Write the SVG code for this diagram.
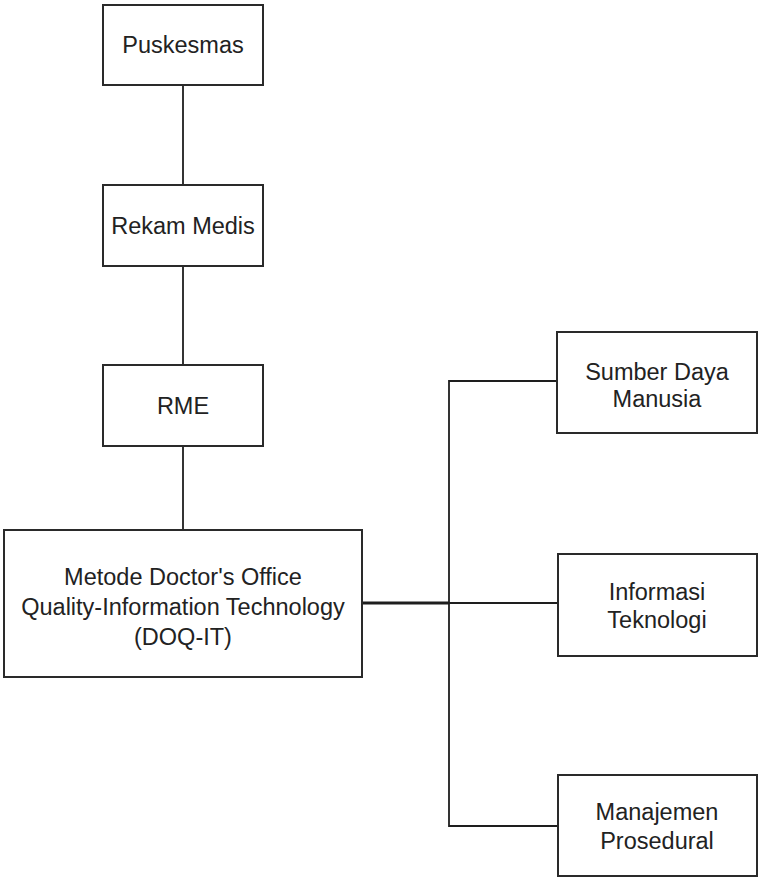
<svg xmlns="http://www.w3.org/2000/svg" width="759" height="877" viewBox="0 0 759 877">
<style>
.box{fill:#fff;stroke:#2a2a2a;stroke-width:2}
.lbl{font-family:"Liberation Sans",Arial,sans-serif;font-size:23.5px;fill:#222;text-anchor:middle}
.con{fill:none;stroke:#1e1e1e;stroke-width:1.8}
</style>
<rect width="759" height="877" fill="#fff"/>
<g id="connectors">
<line class="con" x1="183" y1="85" x2="183" y2="185"/>
<line class="con" x1="183" y1="266" x2="183" y2="365"/>
<line class="con" x1="183" y1="446" x2="183" y2="530"/>
<line class="con" x1="362" y1="603" x2="449" y2="603" style="stroke-width:3"/>
<polyline class="con" points="557,381 449,381 449,826 557,826"/>
<line class="con" x1="449" y1="603" x2="558" y2="603"/>
</g>
<g id="puskesmas">
<rect class="box" x="103" y="5" width="160" height="80"/>
<text class="lbl" x="183" y="53">Puskesmas</text>
</g>
<g id="rekam-medis">
<rect class="box" x="103" y="185" width="160" height="81"/>
<text class="lbl" x="183" y="234">Rekam Medis</text>
</g>
<g id="rme">
<rect class="box" x="103" y="365" width="160" height="81"/>
<text class="lbl" x="183" y="414">RME</text>
</g>
<g id="doqit">
<rect class="box" x="4" y="530" width="358" height="147"/>
<text class="lbl" x="183" y="585">Metode Doctor's Office</text>
<text class="lbl" x="183" y="615">Quality-Information Technology</text>
<text class="lbl" x="183" y="645">(DOQ-IT)</text>
</g>
<g id="sdm">
<rect class="box" x="557" y="332" width="200" height="101"/>
<text class="lbl" x="657" y="380">Sumber Daya</text>
<text class="lbl" x="657" y="407">Manusia</text>
</g>
<g id="it">
<rect class="box" x="558" y="554" width="199" height="102"/>
<text class="lbl" x="657" y="600">Informasi</text>
<text class="lbl" x="657" y="628">Teknologi</text>
</g>
<g id="mp">
<rect class="box" x="558" y="775" width="199" height="101"/>
<text class="lbl" x="657" y="820">Manajemen</text>
<text class="lbl" x="657" y="849">Prosedural</text>
</g>
</svg>
